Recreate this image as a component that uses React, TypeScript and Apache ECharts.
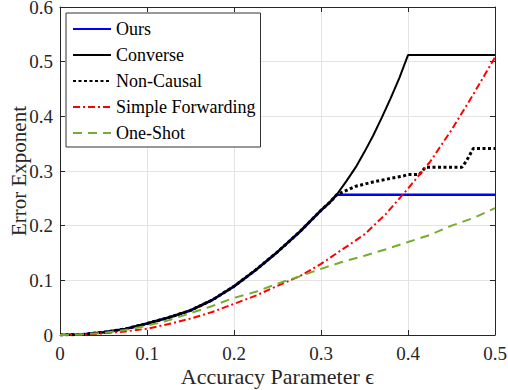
import React, { useEffect, useRef } from "react";
import * as echarts from "echarts";

const xTicks = [0, 0.1, 0.2, 0.3, 0.4, 0.5];
const yTicks = [0, 0.1, 0.2, 0.3, 0.4, 0.5, 0.6];

// shared lower branch (Ours / Converse / Non-Causal coincide here)
const lowEps = [0, 0.025, 0.05, 0.075, 0.1, 0.125, 0.15, 0.175, 0.2, 0.225, 0.25, 0.275, 0.3, 0.31, 0.318];
const lowVal = [0, 0.001, 0.005, 0.011, 0.021, 0.032, 0.045, 0.064, 0.089, 0.119, 0.152, 0.188, 0.228, 0.2425, 0.2565];

const oursTailEps = [0.5];
const oursTailVal = [0.2565];

const converseTailEps = [0.329, 0.34, 0.35, 0.36, 0.37, 0.38, 0.39, 0.4, 0.5];
const converseTailVal = [0.281, 0.307, 0.335, 0.365, 0.398, 0.433, 0.47, 0.512, 0.512];

const nonCausalTailEps = [0.34, 0.36, 0.38, 0.395, 0.4, 0.413, 0.42, 0.462, 0.467, 0.475, 0.5];
const nonCausalTailVal = [0.272, 0.28, 0.2865, 0.291, 0.2935, 0.2935, 0.307, 0.307, 0.318, 0.341, 0.341];

const fwdEps = [0, 0.025, 0.05, 0.075, 0.1, 0.125, 0.15, 0.175, 0.2, 0.225, 0.25, 0.275, 0.3, 0.325, 0.35, 0.375, 0.4, 0.425, 0.45, 0.475, 0.5];
const fwdVal = [0, 0.0005, 0.003, 0.0065, 0.0115, 0.02, 0.03, 0.042, 0.057, 0.072, 0.09, 0.107, 0.13, 0.157, 0.184, 0.222, 0.268, 0.316, 0.375, 0.44, 0.508];

const oneShotEps = [0, 0.025, 0.05, 0.075, 0.1, 0.125, 0.15, 0.175, 0.2, 0.225, 0.25, 0.275, 0.3, 0.325, 0.35, 0.375, 0.4, 0.425, 0.45, 0.475, 0.5];
const oneShotVal = [0, 0.001, 0.004, 0.009, 0.017, 0.027, 0.04, 0.053, 0.068, 0.079, 0.094, 0.107, 0.121, 0.134, 0.145, 0.157, 0.17, 0.183, 0.2, 0.214, 0.232];

const zip = (xs: number[], ys: number[]) => xs.map((x, i) => [x, ys[i]]);

const FONT = "'Liberation Serif', 'Times New Roman', Times, serif";
const AX = "#262626";

export default function App() {
  const ref = useRef<HTMLDivElement>(null);
  useEffect(() => {
    if (!ref.current) return;
    const chart = echarts.init(ref.current, undefined, { renderer: "svg" });
    const ours = zip(lowEps.concat(oursTailEps), lowVal.concat(oursTailVal));
    const converse = zip(lowEps.concat(converseTailEps), lowVal.concat(converseTailVal));
    const nonCausal = zip(lowEps.concat(nonCausalTailEps), lowVal.concat(nonCausalTailVal));
    const common = { type: "line", symbol: "none", silent: true };
    chart.setOption({
      animation: false,
      backgroundColor: "#ffffff",
      textStyle: { fontFamily: FONT },
      grid: { left: 60, right: 13, top: 7, bottom: 55, containLabel: false, outerBoundsMode: "none" },
      legend: {
        orient: "vertical",
        left: 66,
        top: 13,
        padding: [7, 5, 5, 6],
        itemWidth: 38,
        itemHeight: 14,
        itemGap: 8,
        borderColor: "#333333",
        borderWidth: 1,
        borderRadius: 0,
        backgroundColor: "#ffffff",
        itemStyle: { opacity: 0 },
        textStyle: { fontFamily: FONT, fontSize: 18, color: "#000" },
        data: ["Ours", "Converse", "Non-Causal", "Simple Forwarding", "One-Shot"],
      },
      xAxis: [
        {
          type: "value",
          min: 0,
          max: 0.5,
          interval: 0.1,
          name: "Accuracy Parameter ϵ",
          nameLocation: "middle",
          nameGap: 31,
          nameMoveOverlap: false,
          nameTextStyle: { fontFamily: FONT, fontSize: 22, lineHeight: 20, color: AX },
          axisLine: { show: true, onZero: false, lineStyle: { color: AX, width: 1 } },
          axisTick: { show: true, inside: true, length: 5, lineStyle: { color: AX } },
          axisLabel: { fontFamily: FONT, fontSize: 19, lineHeight: 15, color: AX, margin: 11 },
          splitLine: { show: true, lineStyle: { color: "#e3e3e3", width: 1 } },
        },
        {
          type: "value",
          position: "top",
          min: 0,
          max: 0.5,
          interval: 0.1,
          axisLine: { show: true, onZero: false, lineStyle: { color: AX, width: 1 } },
          axisTick: { show: true, inside: true, length: 5, lineStyle: { color: AX } },
          axisLabel: { show: false },
          splitLine: { show: false },
        },
      ],
      yAxis: [
        {
          type: "value",
          min: 0,
          max: 0.6,
          interval: 0.1,
          name: "Error Exponent",
          nameLocation: "middle",
          nameGap: 31,
          nameMoveOverlap: false,
          nameTextStyle: { fontFamily: FONT, fontSize: 21, color: AX },
          axisLine: { show: true, onZero: false, lineStyle: { color: AX, width: 1 } },
          axisTick: { show: true, inside: true, length: 5, lineStyle: { color: AX } },
          axisLabel: { fontFamily: FONT, fontSize: 19, lineHeight: 14, color: AX, margin: 7 },
          splitLine: { show: true, lineStyle: { color: "#e3e3e3", width: 1 } },
        },
        {
          type: "value",
          position: "right",
          min: 0,
          max: 0.6,
          interval: 0.1,
          axisLine: { show: true, onZero: false, lineStyle: { color: AX, width: 1 } },
          axisTick: { show: true, inside: true, length: 5, lineStyle: { color: AX } },
          axisLabel: { show: false },
          splitLine: { show: false },
        },
      ],
      series: [
        { ...common, name: "Ours", data: ours, itemStyle: { color: "#0000ff" }, lineStyle: { color: "#0000ff", width: 2.6 } },
        { ...common, name: "Converse", data: converse, itemStyle: { color: "#000000" }, lineStyle: { color: "#000000", width: 2 } },
        { ...common, name: "Non-Causal", data: nonCausal, itemStyle: { color: "#000000" }, lineStyle: { color: "#000000", width: 3, type: [3, 2.5] } },
        { ...common, name: "Simple Forwarding", data: zip(fwdEps, fwdVal), itemStyle: { color: "#ff0000" }, lineStyle: { color: "#ff0000", width: 2, type: [7, 3, 2, 3] } },
        { ...common, name: "One-Shot", data: zip(oneShotEps, oneShotVal), itemStyle: { color: "#77ac30" }, lineStyle: { color: "#77ac30", width: 2, type: [9, 6] } },
      ],
    });
    return () => chart.dispose();
  }, []);
  return <div ref={ref} style={{ position: "fixed", left: 0, top: 0, width: 508, height: 390 }} />;
}
